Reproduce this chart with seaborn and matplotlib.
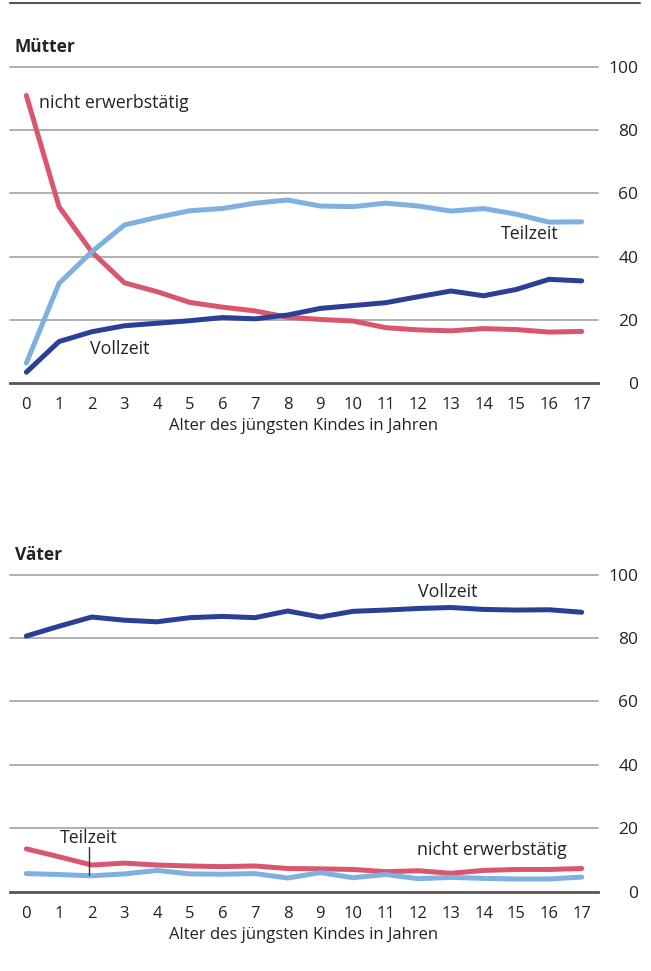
import numpy as np
import pandas as pd
import matplotlib
matplotlib.use('Agg')
import matplotlib.pyplot as plt
import seaborn as sns
from matplotlib.lines import Line2D

# Alter des jüngsten Kindes
alter = list(range(18))

# Mütter (Anteile in %)
muetter_nicht = [91.0, 55.8, 41.5, 31.7, 28.9, 25.5, 24.0, 22.8, 20.8, 20.1,
                 19.6, 17.5, 16.8, 16.5, 17.2, 16.9, 16.1, 16.3]
muetter_teil = [6.3, 31.5, 41.5, 50.0, 52.4, 54.5, 55.2, 56.9, 57.9, 56.0,
                55.8, 56.9, 56.0, 54.4, 55.2, 53.4, 50.9, 51.0]
muetter_voll = [3.4, 13.1, 16.2, 18.1, 18.9, 19.7, 20.7, 20.3, 21.5, 23.6,
                24.5, 25.4, 27.3, 29.1, 27.6, 29.6, 32.8, 32.3]

# Väter (Anteile in %)
vaeter_nicht = [13.5, 11.0, 8.4, 9.0, 8.4, 8.1, 7.9, 8.1, 7.3, 7.2,
                7.0, 6.3, 6.6, 5.8, 6.7, 7.0, 7.0, 7.3]
vaeter_teil = [5.7, 5.4, 5.0, 5.6, 6.7, 5.6, 5.5, 5.7, 4.3, 6.0,
               4.4, 5.4, 4.1, 4.5, 4.2, 4.0, 4.0, 4.6]
vaeter_voll = [80.6, 83.7, 86.6, 85.6, 85.1, 86.4, 86.8, 86.4, 88.5, 86.6,
               88.4, 88.8, 89.3, 89.6, 89.0, 88.8, 88.9, 88.1]

farben = {'nicht erwerbstätig': '#d9566f',
          'Teilzeit': '#7eb1e0',
          'Vollzeit': '#2a3f96'}


def long_df(nicht, teil, voll):
    frames = []
    for name, werte in [('nicht erwerbstätig', nicht), ('Teilzeit', teil), ('Vollzeit', voll)]:
        frames.append(pd.DataFrame({'alter': alter, 'wert': werte, 'status': name}))
    return pd.concat(frames, ignore_index=True)


def style_axis(ax):
    ax.set_xlim(-0.5, 17.5)
    ax.set_ylim(0, 100)
    for s in ['top', 'left', 'right']:
        ax.spines[s].set_visible(False)
    ax.spines['bottom'].set_color('#555555')
    ax.spines['bottom'].set_linewidth(2)
    ax.yaxis.tick_right()
    ax.set_yticks([0, 20, 40, 60, 80, 100])
    ax.tick_params(axis='y', length=0, pad=29, labelsize=12.5, colors='#222222')
    for lbl in ax.get_yticklabels():
        lbl.set_horizontalalignment('right')
    ax.set_xticks(alter)
    ax.set_xticklabels([str(a) for a in alter])
    ax.tick_params(axis='x', length=0, pad=10, labelsize=12, colors='#222222')
    ax.set_xticks(np.arange(0.5, 17, 1), minor=True)
    ax.tick_params(axis='x', which='minor', length=6, width=1.2, color='#555555', direction='out')
    for v in [20, 40, 60, 80, 100]:
        ax.axhline(v, color='#aaaaaa', lw=1.3, zorder=0, clip_on=False)
    ax.set_xlabel('Alter des jüngsten Kindes in Jahren', fontsize=12, color='#222222', labelpad=4)
    ax.set_ylabel('')
    ax.grid(False)


sns.set_theme(style='white')
plt.rcParams['font.family'] = ['Open Sans', 'DejaVu Sans']

fig = plt.figure(figsize=(6.51, 9.71), dpi=100)
ax1 = fig.add_axes([0.0154, 0.6056, 0.9032, 0.3254])
ax2 = fig.add_axes([0.0154, 0.0817, 0.9032, 0.3266])

d1 = long_df(muetter_nicht, muetter_teil, muetter_voll)
sns.lineplot(data=d1, x='alter', y='wert', hue='status', palette=farben,
             linewidth=3.6, legend=False, ax=ax1)
d2 = long_df(vaeter_nicht, vaeter_teil, vaeter_voll)
sns.lineplot(data=d2, x='alter', y='wert', hue='status', palette=farben,
             linewidth=3.6, legend=False, ax=ax2)

for ax in (ax1, ax2):
    for ln in ax.lines:
        ln.set_clip_on(False)
    style_axis(ax)

# Beschriftungen oben
txt = dict(fontsize=12.8, color='#222222')
ax1.text(0.4, 88.5, 'nicht erwerbstätig', ha='left', va='center', **txt)
ax1.text(15.4, 47.3, 'Teilzeit', ha='center', va='center', **txt)
ax1.text(2.85, 10.8, 'Vollzeit', ha='center', va='center', **txt)

# Beschriftungen unten
ax2.text(12.9, 94.6, 'Vollzeit', ha='center', va='center', **txt)
ax2.text(1.9, 17.0, 'Teilzeit', ha='center', va='center', **txt)
ax2.plot([1.93, 1.93], [14.0, 5.3], color='#333333', lw=1)
ax2.text(14.25, 13.0, 'nicht erwerbstätig', ha='center', va='center', **txt)

fig.text(0.023, 0.952, 'Mütter', fontsize=12.5, fontweight='bold', color='#222222', va='center')
fig.text(0.023, 0.428, 'Väter', fontsize=12.5, fontweight='bold', color='#222222', va='center')
fig.add_artist(Line2D([0.0154, 0.983], [0.9965, 0.9965], color='#555555', lw=1.5))

fig.savefig('out.png', dpi=100)
